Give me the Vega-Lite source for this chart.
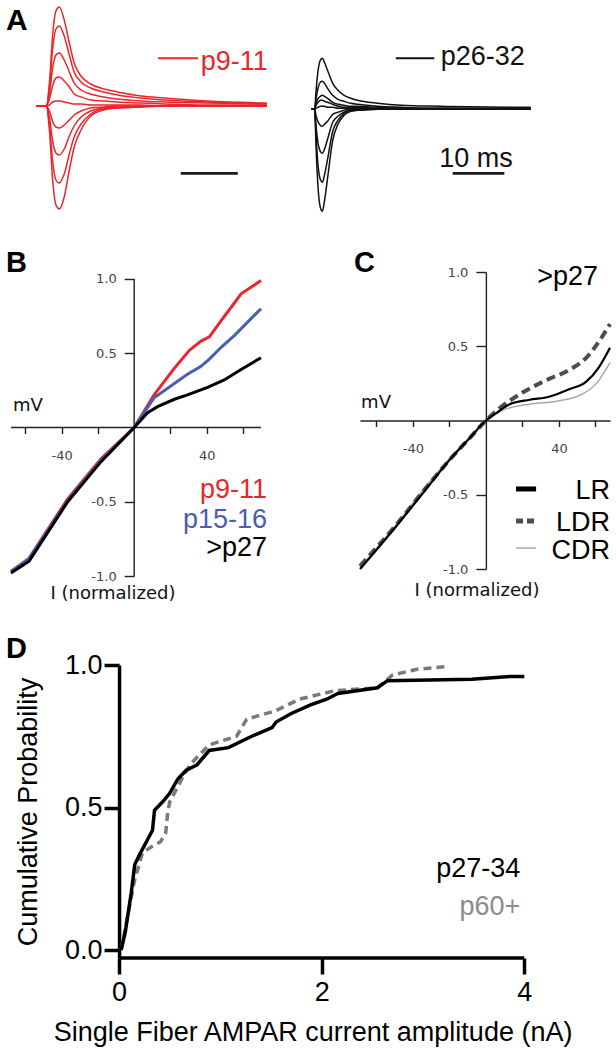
{
"$schema":"https://vega.github.io/schema/vega-lite/v6.json",
"padding":{"left":5,"top":0,"right":0,"bottom":0},
"background":"white",
"config":{"view":{"stroke":null},"font":"Liberation Sans"},
"datasets":{
"red":[
{"k":1,"x":0,"y":0},{"k":1,"x":1.8,"y":0},{"k":1,"x":2.35,"y":0.23},{"k":1,"x":2.95,"y":0.73},{"k":1,"x":3.5,"y":0.95},{"k":1,"x":4.1,"y":0.99},{"k":1,"x":4.95,"y":0.86},{"k":1,"x":5.85,"y":0.63},{"k":1,"x":6.7,"y":0.43},{"k":1,"x":7.9,"y":0.30},{"k":1,"x":9.6,"y":0.22},{"k":1,"x":11.9,"y":0.17},{"k":1,"x":14.3,"y":0.14},{"k":1,"x":18.4,"y":0.10},{"k":1,"x":22.5,"y":0.08},{"k":1,"x":30,"y":0.05},{"k":1,"x":40.5,"y":0.03},
{"k":2,"x":0,"y":0},{"k":2,"x":1.8,"y":0},{"k":2,"x":2.35,"y":0.18},{"k":2,"x":2.95,"y":0.59},{"k":2,"x":3.5,"y":0.77},{"k":2,"x":4.1,"y":0.80},{"k":2,"x":4.95,"y":0.70},{"k":2,"x":5.85,"y":0.51},{"k":2,"x":6.7,"y":0.34},{"k":2,"x":7.9,"y":0.24},{"k":2,"x":9.6,"y":0.18},{"k":2,"x":11.9,"y":0.14},{"k":2,"x":14.3,"y":0.11},{"k":2,"x":18.4,"y":0.08},{"k":2,"x":22.5,"y":0.06},{"k":2,"x":30,"y":0.04},{"k":2,"x":40.5,"y":0.02},
{"k":3,"x":0,"y":0},{"k":3,"x":1.8,"y":0},{"k":3,"x":2.35,"y":0.12},{"k":3,"x":2.95,"y":0.39},{"k":3,"x":3.5,"y":0.51},{"k":3,"x":4.1,"y":0.53},{"k":3,"x":4.95,"y":0.46},{"k":3,"x":5.85,"y":0.34},{"k":3,"x":6.7,"y":0.23},{"k":3,"x":7.9,"y":0.16},{"k":3,"x":9.6,"y":0.12},{"k":3,"x":11.9,"y":0.09},{"k":3,"x":14.3,"y":0.07},{"k":3,"x":18.4,"y":0.05},{"k":3,"x":22.5,"y":0.04},{"k":3,"x":30,"y":0.03},{"k":3,"x":40.5,"y":0.02},
{"k":4,"x":0,"y":0},{"k":4,"x":1.8,"y":0},{"k":4,"x":2.35,"y":0.07},{"k":4,"x":2.95,"y":0.21},{"k":4,"x":3.5,"y":0.28},{"k":4,"x":4.1,"y":0.29},{"k":4,"x":4.95,"y":0.25},{"k":4,"x":5.85,"y":0.19},{"k":4,"x":6.7,"y":0.12},{"k":4,"x":7.9,"y":0.09},{"k":4,"x":9.6,"y":0.06},{"k":4,"x":11.9,"y":0.05},{"k":4,"x":14.3,"y":0.04},{"k":4,"x":18.4,"y":0.03},{"k":4,"x":22.5,"y":0.02},{"k":4,"x":30,"y":0.01},{"k":4,"x":40.5,"y":0.01},
{"k":5,"x":0,"y":0},{"k":5,"x":1.8,"y":0},{"k":5,"x":2.35,"y":0.01},{"k":5,"x":2.95,"y":0.04},{"k":5,"x":3.5,"y":0.05},{"k":5,"x":4.1,"y":0.05},{"k":5,"x":4.95,"y":0.04},{"k":5,"x":5.85,"y":0.03},{"k":5,"x":6.7,"y":0.02},{"k":5,"x":7.9,"y":0.02},{"k":5,"x":9.6,"y":0.01},{"k":5,"x":11.9,"y":0.01},{"k":5,"x":14.3,"y":0.01},{"k":5,"x":18.4,"y":0.01},{"k":5,"x":22.5,"y":0},{"k":5,"x":30,"y":0},{"k":5,"x":40.5,"y":0},
{"k":6,"x":0,"y":0},{"k":6,"x":1.8,"y":0},{"k":6,"x":2.35,"y":-0.05},{"k":6,"x":2.95,"y":-0.16},{"k":6,"x":3.5,"y":-0.21},{"k":6,"x":4.1,"y":-0.22},{"k":6,"x":4.95,"y":-0.19},{"k":6,"x":5.85,"y":-0.14},{"k":6,"x":6.7,"y":-0.09},{"k":6,"x":7.9,"y":-0.05},{"k":6,"x":9.6,"y":-0.02},{"k":6,"x":11.9,"y":-0.01},{"k":6,"x":14.3,"y":0},{"k":6,"x":18.4,"y":0},{"k":6,"x":22.5,"y":0},{"k":6,"x":30,"y":0},{"k":6,"x":40.5,"y":0},
{"k":7,"x":0,"y":0},{"k":7,"x":1.8,"y":0},{"k":7,"x":2.35,"y":-0.11},{"k":7,"x":2.95,"y":-0.36},{"k":7,"x":3.5,"y":-0.47},{"k":7,"x":4.1,"y":-0.49},{"k":7,"x":4.95,"y":-0.43},{"k":7,"x":5.85,"y":-0.30},{"k":7,"x":6.7,"y":-0.20},{"k":7,"x":7.9,"y":-0.11},{"k":7,"x":9.6,"y":-0.05},{"k":7,"x":11.9,"y":-0.02},{"k":7,"x":14.3,"y":-0.01},{"k":7,"x":18.4,"y":0},{"k":7,"x":22.5,"y":0},{"k":7,"x":30,"y":0},{"k":7,"x":40.5,"y":0},
{"k":8,"x":0,"y":0},{"k":8,"x":1.8,"y":0},{"k":8,"x":2.35,"y":-0.18},{"k":8,"x":2.95,"y":-0.57},{"k":8,"x":3.5,"y":-0.74},{"k":8,"x":4.1,"y":-0.77},{"k":8,"x":4.95,"y":-0.68},{"k":8,"x":5.85,"y":-0.48},{"k":8,"x":6.7,"y":-0.31},{"k":8,"x":7.9,"y":-0.18},{"k":8,"x":9.6,"y":-0.08},{"k":8,"x":11.9,"y":-0.03},{"k":8,"x":14.3,"y":-0.02},{"k":8,"x":18.4,"y":-0.01},{"k":8,"x":22.5,"y":0},{"k":8,"x":30,"y":0},{"k":8,"x":40.5,"y":0},
{"k":9,"x":0,"y":0},{"k":9,"x":1.8,"y":0},{"k":9,"x":2.35,"y":-0.24},{"k":9,"x":2.95,"y":-0.76},{"k":9,"x":3.5,"y":-0.99},{"k":9,"x":4.1,"y":-1.03},{"k":9,"x":4.95,"y":-0.91},{"k":9,"x":5.85,"y":-0.64},{"k":9,"x":6.7,"y":-0.41},{"k":9,"x":7.9,"y":-0.24},{"k":9,"x":9.6,"y":-0.10},{"k":9,"x":11.9,"y":-0.04},{"k":9,"x":14.3,"y":-0.02},{"k":9,"x":18.4,"y":-0.01},{"k":9,"x":22.5,"y":0},{"k":9,"x":30,"y":0},{"k":9,"x":40.5,"y":0}
],
"blk":[
{"k":1,"x":0,"y":0},{"k":1,"x":0.7,"y":0},{"k":1,"x":1.0,"y":0.20},{"k":1,"x":1.4,"y":0.40},{"k":1,"x":1.8,"y":0.49},{"k":1,"x":2.2,"y":0.51},{"k":1,"x":2.6,"y":0.47},{"k":1,"x":3.2,"y":0.39},{"k":1,"x":4.2,"y":0.26},{"k":1,"x":5.2,"y":0.19},{"k":1,"x":6.4,"y":0.14},{"k":1,"x":7.7,"y":0.11},{"k":1,"x":9,"y":0.09},{"k":1,"x":12.9,"y":0.06},{"k":1,"x":17.4,"y":0.04},{"k":1,"x":25,"y":0.03},{"k":1,"x":42.5,"y":0.02},
{"k":2,"x":0,"y":0},{"k":2,"x":0.7,"y":0},{"k":2,"x":1.0,"y":0.11},{"k":2,"x":1.4,"y":0.22},{"k":2,"x":1.8,"y":0.27},{"k":2,"x":2.2,"y":0.28},{"k":2,"x":2.6,"y":0.26},{"k":2,"x":3.2,"y":0.21},{"k":2,"x":4.2,"y":0.14},{"k":2,"x":5.2,"y":0.10},{"k":2,"x":6.4,"y":0.08},{"k":2,"x":7.7,"y":0.06},{"k":2,"x":9,"y":0.05},{"k":2,"x":12.9,"y":0.03},{"k":2,"x":17.4,"y":0.02},{"k":2,"x":25,"y":0.01},{"k":2,"x":42.5,"y":0.01},
{"k":3,"x":0,"y":0},{"k":3,"x":0.7,"y":0},{"k":3,"x":1.0,"y":0.06},{"k":3,"x":1.4,"y":0.11},{"k":3,"x":1.8,"y":0.13},{"k":3,"x":2.2,"y":0.14},{"k":3,"x":2.6,"y":0.13},{"k":3,"x":3.2,"y":0.11},{"k":3,"x":4.2,"y":0.07},{"k":3,"x":5.2,"y":0.05},{"k":3,"x":6.4,"y":0.04},{"k":3,"x":7.7,"y":0.03},{"k":3,"x":9,"y":0.03},{"k":3,"x":12.9,"y":0.02},{"k":3,"x":17.4,"y":0.01},{"k":3,"x":25,"y":0.01},{"k":3,"x":42.5,"y":0},
{"k":4,"x":0,"y":0},{"k":4,"x":0.7,"y":0},{"k":4,"x":1.0,"y":0.04},{"k":4,"x":1.4,"y":0.07},{"k":4,"x":1.8,"y":0.09},{"k":4,"x":2.2,"y":0.09},{"k":4,"x":2.6,"y":0.08},{"k":4,"x":3.2,"y":0.07},{"k":4,"x":4.2,"y":0.05},{"k":4,"x":5.2,"y":0.03},{"k":4,"x":6.4,"y":0.02},{"k":4,"x":7.7,"y":0.02},{"k":4,"x":9,"y":0.02},{"k":4,"x":12.9,"y":0.01},{"k":4,"x":17.4,"y":0.01},{"k":4,"x":25,"y":0},{"k":4,"x":42.5,"y":0},
{"k":5,"x":0,"y":0},{"k":5,"x":0.7,"y":0},{"k":5,"x":1.0,"y":0.01},{"k":5,"x":1.4,"y":0.02},{"k":5,"x":1.8,"y":0.03},{"k":5,"x":2.2,"y":0.03},{"k":5,"x":2.6,"y":0.03},{"k":5,"x":3.2,"y":0.02},{"k":5,"x":4.2,"y":0.02},{"k":5,"x":5.2,"y":0.01},{"k":5,"x":6.4,"y":0.01},{"k":5,"x":7.7,"y":0.01},{"k":5,"x":9,"y":0.01},{"k":5,"x":12.9,"y":0},{"k":5,"x":17.4,"y":0},{"k":5,"x":25,"y":0},{"k":5,"x":42.5,"y":0},
{"k":6,"x":0,"y":0},{"k":6,"x":0.7,"y":0},{"k":6,"x":1.0,"y":-0.07},{"k":6,"x":1.4,"y":-0.13},{"k":6,"x":1.8,"y":-0.16},{"k":6,"x":2.2,"y":-0.17},{"k":6,"x":2.6,"y":-0.15},{"k":6,"x":3.2,"y":-0.12},{"k":6,"x":4.2,"y":-0.05},{"k":6,"x":5.2,"y":-0.03},{"k":6,"x":6.4,"y":-0.01},{"k":6,"x":7.7,"y":0},{"k":6,"x":9,"y":0},{"k":6,"x":12.9,"y":0},{"k":6,"x":17.4,"y":0},{"k":6,"x":25,"y":0},{"k":6,"x":42.5,"y":0},
{"k":7,"x":0,"y":0},{"k":7,"x":0.7,"y":0},{"k":7,"x":1.0,"y":-0.18},{"k":7,"x":1.4,"y":-0.35},{"k":7,"x":1.8,"y":-0.42},{"k":7,"x":2.2,"y":-0.44},{"k":7,"x":2.6,"y":-0.40},{"k":7,"x":3.2,"y":-0.30},{"k":7,"x":4.2,"y":-0.13},{"k":7,"x":5.2,"y":-0.07},{"k":7,"x":6.4,"y":-0.03},{"k":7,"x":7.7,"y":-0.01},{"k":7,"x":9,"y":0},{"k":7,"x":12.9,"y":0},{"k":7,"x":17.4,"y":0},{"k":7,"x":25,"y":0},{"k":7,"x":42.5,"y":0},
{"k":8,"x":0,"y":0},{"k":8,"x":0.7,"y":0},{"k":8,"x":1.0,"y":-0.29},{"k":8,"x":1.4,"y":-0.58},{"k":8,"x":1.8,"y":-0.70},{"k":8,"x":2.2,"y":-0.73},{"k":8,"x":2.6,"y":-0.66},{"k":8,"x":3.2,"y":-0.50},{"k":8,"x":4.2,"y":-0.22},{"k":8,"x":5.2,"y":-0.11},{"k":8,"x":6.4,"y":-0.04},{"k":8,"x":7.7,"y":-0.01},{"k":8,"x":9,"y":-0.01},{"k":8,"x":12.9,"y":0},{"k":8,"x":17.4,"y":0},{"k":8,"x":25,"y":0},{"k":8,"x":42.5,"y":0},
{"k":9,"x":0,"y":0},{"k":9,"x":0.7,"y":0},{"k":9,"x":1.0,"y":-0.41},{"k":9,"x":1.4,"y":-0.81},{"k":9,"x":1.8,"y":-0.98},{"k":9,"x":2.2,"y":-1.02},{"k":9,"x":2.6,"y":-0.92},{"k":9,"x":3.2,"y":-0.69},{"k":9,"x":4.2,"y":-0.31},{"k":9,"x":5.2,"y":-0.15},{"k":9,"x":6.4,"y":-0.06},{"k":9,"x":7.7,"y":-0.02},{"k":9,"x":9,"y":-0.01},{"k":9,"x":12.9,"y":0},{"k":9,"x":17.4,"y":0},{"k":9,"x":25,"y":0},{"k":9,"x":42.5,"y":0}
],
"ivb":[
{"g":"r","x":-68,"y":-0.97},{"g":"r","x":-58,"y":-0.88},{"g":"r","x":-36.7,"y":-0.48},{"g":"r","x":-18.3,"y":-0.21},{"g":"r","x":0,"y":0},{"g":"r","x":11,"y":0.22},{"g":"r","x":22.2,"y":0.40},{"g":"r","x":30.5,"y":0.52},{"g":"r","x":36.7,"y":0.58},{"g":"r","x":41.5,"y":0.61},{"g":"r","x":48,"y":0.72},{"g":"r","x":55.4,"y":0.84},{"g":"r","x":59,"y":0.90},{"g":"r","x":66.4,"y":0.96},{"g":"r","x":70,"y":0.99},
{"g":"b","x":-68,"y":-0.97},{"g":"b","x":-58,"y":-0.885},{"g":"b","x":-36.7,"y":-0.49},{"g":"b","x":-18.3,"y":-0.22},{"g":"b","x":0,"y":0},{"g":"b","x":11,"y":0.20},{"g":"b","x":29.4,"y":0.358},{"g":"b","x":36.7,"y":0.41},{"g":"b","x":41.5,"y":0.46},{"g":"b","x":48,"y":0.54},{"g":"b","x":55.4,"y":0.62},{"g":"b","x":70,"y":0.80},
{"g":"k","x":-68,"y":-0.98},{"g":"k","x":-58,"y":-0.90},{"g":"k","x":-36.7,"y":-0.50},{"g":"k","x":-18.3,"y":-0.23},{"g":"k","x":0,"y":0},{"g":"k","x":7.4,"y":0.10},{"g":"k","x":12.9,"y":0.14},{"g":"k","x":22.2,"y":0.19},{"g":"k","x":29.4,"y":0.22},{"g":"k","x":40.5,"y":0.27},{"g":"k","x":49.7,"y":0.32},{"g":"k","x":59,"y":0.39},{"g":"k","x":70,"y":0.47}
],
"ivc":[
{"g":"lr","x":-69,"y":-1.0},{"g":"lr","x":-49,"y":-0.71},{"g":"lr","x":-34.6,"y":-0.49},{"g":"lr","x":-18.1,"y":-0.24},{"g":"lr","x":-9,"y":-0.12},{"g":"lr","x":0,"y":0},{"g":"lr","x":5.7,"y":0.05},{"g":"lr","x":13,"y":0.11},{"g":"lr","x":24,"y":0.14},{"g":"lr","x":34.6,"y":0.16},{"g":"lr","x":45.6,"y":0.21},{"g":"lr","x":54.8,"y":0.26},{"g":"lr","x":62,"y":0.36},{"g":"lr","x":68,"y":0.49},
{"g":"ldr","x":-69,"y":-0.98},{"g":"ldr","x":-49,"y":-0.70},{"g":"ldr","x":-34.6,"y":-0.48},{"g":"ldr","x":-18.1,"y":-0.24},{"g":"ldr","x":-9,"y":-0.12},{"g":"ldr","x":0,"y":0},{"g":"ldr","x":9.3,"y":0.10},{"g":"ldr","x":20.3,"y":0.19},{"g":"ldr","x":34.6,"y":0.28},{"g":"ldr","x":45.6,"y":0.34},{"g":"ldr","x":54.8,"y":0.42},{"g":"ldr","x":64,"y":0.57},{"g":"ldr","x":68,"y":0.65},
{"g":"cdr","x":-69,"y":-0.99},{"g":"cdr","x":-49,"y":-0.70},{"g":"cdr","x":-34.6,"y":-0.47},{"g":"cdr","x":-18.1,"y":-0.23},{"g":"cdr","x":-9,"y":-0.12},{"g":"cdr","x":0,"y":0},{"g":"cdr","x":9.3,"y":0.07},{"g":"cdr","x":24,"y":0.11},{"g":"cdr","x":38.8,"y":0.13},{"g":"cdr","x":51.5,"y":0.17},{"g":"cdr","x":60.6,"y":0.25},{"g":"cdr","x":68,"y":0.39}
],
"cdf":[
{"g":"young","x":0.02,"y":0},{"g":"young","x":0.06,"y":0.06},{"g":"young","x":0.12,"y":0.20},{"g":"young","x":0.155,"y":0.30},{"g":"young","x":0.21,"y":0.34},{"g":"young","x":0.27,"y":0.38},{"g":"young","x":0.33,"y":0.42},{"g":"young","x":0.35,"y":0.49},{"g":"young","x":0.43,"y":0.52},{"g":"young","x":0.50,"y":0.55},{"g":"young","x":0.58,"y":0.60},{"g":"young","x":0.66,"y":0.63},{"g":"young","x":0.77,"y":0.65},{"g":"young","x":0.89,"y":0.70},{"g":"young","x":1.08,"y":0.71},{"g":"young","x":1.31,"y":0.75},{"g":"young","x":1.51,"y":0.78},{"g":"young","x":1.55,"y":0.80},{"g":"young","x":1.70,"y":0.83},{"g":"young","x":1.89,"y":0.86},{"g":"young","x":2.05,"y":0.88},{"g":"young","x":2.16,"y":0.90},{"g":"young","x":2.55,"y":0.92},{"g":"young","x":2.65,"y":0.945},{"g":"young","x":3.48,"y":0.95},{"g":"young","x":3.86,"y":0.96},{"g":"young","x":4.0,"y":0.96},
{"g":"old","x":0.02,"y":0},{"g":"old","x":0.08,"y":0.11},{"g":"old","x":0.15,"y":0.24},{"g":"old","x":0.23,"y":0.34},{"g":"old","x":0.31,"y":0.36},{"g":"old","x":0.41,"y":0.38},{"g":"old","x":0.46,"y":0.41},{"g":"old","x":0.48,"y":0.48},{"g":"old","x":0.50,"y":0.52},{"g":"old","x":0.62,"y":0.60},{"g":"old","x":0.70,"y":0.65},{"g":"old","x":0.89,"y":0.72},{"g":"old","x":1.16,"y":0.75},{"g":"old","x":1.26,"y":0.81},{"g":"old","x":1.55,"y":0.84},{"g":"old","x":1.78,"y":0.88},{"g":"old","x":2.13,"y":0.91},{"g":"old","x":2.55,"y":0.92},{"g":"old","x":2.70,"y":0.965},{"g":"old","x":2.94,"y":0.985},{"g":"old","x":3.25,"y":0.995}
]
},
"spacing":33,
"vconcat":[
{"spacing":10,"hconcat":[
 {"width":280,"height":215,
  "encoding":{
   "x":{"field":"x","type":"quantitative","scale":{"domain":[-5.263,43.86],"nice":false,"zero":false},"axis":null},
   "y":{"field":"y","type":"quantitative","scale":{"domain":[-1.09,1.06],"nice":false,"zero":false},"axis":null}},
  "layer":[
   {"data":{"name":"red"},"mark":{"type":"line","color":"#e8262b","strokeWidth":1.5,"interpolate":"monotone"},"encoding":{"detail":{"field":"k","type":"nominal"}}},
   {"data":{"values":[{"x":21.4,"x2":28.4,"y":0.477}]},"mark":{"type":"rule","color":"#e8262b","strokeWidth":2},"encoding":{"x2":{"field":"x2"}}},
   {"data":{"values":[{"x":25.4,"x2":35.4,"y":-0.673}]},"mark":{"type":"rule","color":"#1a1a1a","strokeWidth":2.7},"encoding":{"x2":{"field":"x2"}}},
   {"data":{"values":[{"x":28.9,"y":0.36,"t":"p9-11"}]},"mark":{"type":"text","align":"left","baseline":"alphabetic","fontSize":27,"color":"#e8262b"},"encoding":{"text":{"field":"t"}}},
   {"data":{"values":[{"x":-5.263,"y":1.0,"t":"A"}]},"mark":{"type":"text","align":"left","baseline":"top","fontSize":30,"fontWeight":"bold","color":"#000"},"encoding":{"text":{"field":"t"}}}
  ]},
 {"width":265,"height":215,
  "encoding":{
   "x":{"field":"x","type":"quantitative","scale":{"domain":[-2.901,48.36],"nice":false,"zero":false},"axis":null},
   "y":{"field":"y","type":"quantitative","scale":{"domain":[-1.057,1.093],"nice":false,"zero":false},"axis":null}},
  "layer":[
   {"data":{"name":"blk"},"mark":{"type":"line","color":"#111111","strokeWidth":1.5,"interpolate":"monotone"},"encoding":{"detail":{"field":"k","type":"nominal"}}},
   {"data":{"values":[{"x":16.4,"x2":23.85,"y":0.51}]},"mark":{"type":"rule","color":"#111111","strokeWidth":2},"encoding":{"x2":{"field":"x2"}}},
   {"data":{"values":[{"x":27.4,"x2":37.4,"y":-0.64}]},"mark":{"type":"rule","color":"#1a1a1a","strokeWidth":2.7},"encoding":{"x2":{"field":"x2"}}},
   {"data":{"values":[{"x":25.1,"y":0.443,"t":"p26-32"}]},"mark":{"type":"text","align":"left","baseline":"alphabetic","fontSize":27,"color":"#111111"},"encoding":{"text":{"field":"t"}}},
   {"data":{"values":[{"x":31.9,"y":-0.574,"t":"10 ms"}]},"mark":{"type":"text","align":"center","baseline":"alphabetic","fontSize":27,"color":"#111111"},"encoding":{"text":{"field":"t"}}}
  ]}
]},
{"spacing":31,"vconcat":[
 {"spacing":85,"hconcat":[
  {"width":255,"height":304,
   "encoding":{
    "x":{"field":"x","type":"quantitative","scale":{"domain":[-70.76,70],"nice":false,"zero":false},
     "axis":{"orient":"bottom","offset":-148.5,"domain":false,"values":[-60,-40,-20,20,40,60],"labelExpr":"datum.value == 40 ? '40' : (datum.value == -40 ? '-40' : '')","tickSize":6,"labelPadding":16,"labelFont":"DejaVu Sans","labelFontSize":13,"labelColor":"#444","tickColor":"#222","tickWidth":1.4,"grid":false,"title":null,"labelFlush":false,"labelOverlap":false}},
    "y":{"field":"y","type":"quantitative","scale":{"domain":[-1,1.047],"nice":false,"zero":false},
     "axis":{"orient":"left","offset":-128.2,"domain":false,"values":[-1,-0.5,0.5,1],"labelExpr":"datum.value == 1 ? '1.0' : (datum.value == 0.5 ? '0.5' : (datum.value == -0.5 ? '-0.5' : '-1.0'))","tickSize":10,"labelPadding":8,"labelFont":"DejaVu Sans","labelFontSize":13,"labelColor":"#444","tickColor":"#222","tickWidth":1.4,"grid":false,"title":null,"labelOverlap":false}}},
   "layer":[
    {"data":{"values":[{"x":-68,"x2":70,"y":0}]},"mark":{"type":"rule","color":"#222","strokeWidth":1.4},"encoding":{"x2":{"field":"x2"}}},
    {"data":{"values":[{"x":0,"y":-1,"y2":1}]},"mark":{"type":"rule","color":"#222","strokeWidth":1.4},"encoding":{"y2":{"field":"y2"}}},
    {"data":{"name":"ivb"},"transform":[{"filter":"datum.g == 'r'"}],"mark":{"type":"line","color":"#e8262b","strokeWidth":3},"encoding":{}},
    {"data":{"name":"ivb"},"transform":[{"filter":"datum.g == 'b'"}],"mark":{"type":"line","color":"#4a5db0","strokeWidth":3},"encoding":{}},
    {"data":{"name":"ivb"},"transform":[{"filter":"datum.g == 'k'"}],"mark":{"type":"line","color":"#000000","strokeWidth":3},"encoding":{}},
    {"data":{"values":[{"x":-70.76,"y":1.202,"t":"B"}]},"mark":{"type":"text","align":"left","baseline":"top","fontSize":29,"fontWeight":"bold","color":"#000"},"encoding":{"text":{"field":"t"}}},
    {"data":{"values":[{"x":-66.9,"y":0.111,"t":"mV"}]},"mark":{"type":"text","align":"left","baseline":"alphabetic","fontSize":18,"font":"DejaVu Sans","color":"#111"},"encoding":{"text":{"field":"t"}}},
    {"data":{"values":[{"x":-11.7,"y":-1.155,"t":"I (normalized)"}]},"mark":{"type":"text","align":"center","baseline":"alphabetic","fontSize":18,"font":"DejaVu Sans","color":"#111"},"encoding":{"text":{"field":"t"}}},
    {"data":{"values":[{"x":73.3,"y":-0.475,"t":"p9-11"}]},"mark":{"type":"text","align":"right","baseline":"alphabetic","fontSize":27,"color":"#e8262b"},"encoding":{"text":{"field":"t"}}},
    {"data":{"values":[{"x":73.3,"y":-0.677,"t":"p15-16"}]},"mark":{"type":"text","align":"right","baseline":"alphabetic","fontSize":27,"color":"#4a5db0"},"encoding":{"text":{"field":"t"}}},
    {"data":{"values":[{"x":73.3,"y":-0.865,"t":">p27"}]},"mark":{"type":"text","align":"right","baseline":"alphabetic","fontSize":27,"color":"#000000"},"encoding":{"text":{"field":"t"}}}
   ]},
  {"width":250,"height":297,
   "encoding":{
    "x":{"field":"x","type":"quantitative","scale":{"domain":[-69,68],"nice":false,"zero":false},
     "axis":{"orient":"bottom","offset":-148.5,"values":[-60,-40,-20,20,40,60],"labelExpr":"datum.value == 40 ? '40' : (datum.value == -40 ? '-40' : '')","tickSize":6,"labelPadding":16,"labelFont":"DejaVu Sans","labelFontSize":13,"labelColor":"#444","domainColor":"#222","tickColor":"#222","domainWidth":1.4,"tickWidth":1.4,"grid":false,"title":null,"labelFlush":false,"labelOverlap":false}},
    "y":{"field":"y","type":"quantitative","scale":{"domain":[-1,1],"nice":false,"zero":false},
     "axis":{"orient":"left","offset":-125.9,"values":[-1,-0.5,0.5,1],"labelExpr":"datum.value == 1 ? '1.0' : (datum.value == 0.5 ? '0.5' : (datum.value == -0.5 ? '-0.5' : '-1.0'))","tickSize":10,"labelPadding":8,"labelFont":"DejaVu Sans","labelFontSize":13,"labelColor":"#444","domainColor":"#222","tickColor":"#222","domainWidth":1.4,"tickWidth":1.4,"grid":false,"title":null,"labelOverlap":false}}},
   "layer":[
    {"data":{"name":"ivc"},"transform":[{"filter":"datum.g == 'cdr'"}],"mark":{"type":"line","color":"#a8a8a8","strokeWidth":1.5,"interpolate":"monotone"},"encoding":{}},
    {"data":{"name":"ivc"},"transform":[{"filter":"datum.g == 'ldr'"}],"mark":{"type":"line","color":"#4d4d4d","strokeWidth":4,"strokeDash":[9,5],"interpolate":"monotone"},"encoding":{}},
    {"data":{"name":"ivc"},"transform":[{"filter":"datum.g == 'lr'"}],"mark":{"type":"line","color":"#000000","strokeWidth":2.2,"interpolate":"monotone"},"encoding":{}},
    {"data":{"values":[{"x":16.5,"x2":27.5,"y":-0.461}]},"mark":{"type":"rule","color":"#000000","strokeWidth":5},"encoding":{"x2":{"field":"x2"}}},
    {"data":{"values":[{"x":16.5,"x2":27.5,"y":-0.677}]},"mark":{"type":"rule","color":"#4d4d4d","strokeWidth":5,"strokeDash":[7,4]},"encoding":{"x2":{"field":"x2"}}},
    {"data":{"values":[{"x":16.5,"x2":27.5,"y":-0.859}]},"mark":{"type":"rule","color":"#a8a8a8","strokeWidth":1.5},"encoding":{"x2":{"field":"x2"}}},
    {"data":{"values":[{"x":68,"y":-0.529,"t":"LR"},{"x":68,"y":-0.744,"t":"LDR"},{"x":68,"y":-0.933,"t":"CDR"},{"x":61.4,"y":0.912,"t":">p27"}]},"mark":{"type":"text","align":"right","baseline":"alphabetic","fontSize":27,"color":"#000"},"encoding":{"text":{"field":"t"}}},
    {"data":{"values":[{"x":-72.3,"y":1.155,"t":"C"}]},"mark":{"type":"text","align":"left","baseline":"top","fontSize":29,"fontWeight":"bold","color":"#000"},"encoding":{"text":{"field":"t"}}},
    {"data":{"values":[{"x":-68.4,"y":0.084,"t":"mV"}]},"mark":{"type":"text","align":"left","baseline":"alphabetic","fontSize":18,"font":"DejaVu Sans","color":"#111"},"encoding":{"text":{"field":"t"}}},
    {"data":{"values":[{"x":-4.9,"y":-1.182,"t":"I (normalized)"}]},"mark":{"type":"text","align":"center","baseline":"alphabetic","fontSize":18,"font":"DejaVu Sans","color":"#111"},"encoding":{"text":{"field":"t"}}}
   ]}
 ]},
 {"width":518.3,"height":293,
  "encoding":{
   "x":{"field":"x","type":"quantitative","scale":{"domain":[-1.116,4],"nice":false,"zero":false},
    "axis":{"values":[0,2,4],"format":"d","domain":false,"tickSize":16,"tickWidth":3.5,"tickColor":"#000","labelFontSize":27,"labelColor":"#000","labelPadding":5,"labelFlush":false,"grid":false,"title":null}},
   "y":{"field":"y","type":"quantitative","scale":{"domain":[-0.028,1],"nice":false,"zero":false},
    "axis":{"offset":-113.05,"values":[0,0.5,1],"format":".1f","tickSize":15,"tickWidth":3.5,"domainWidth":3.5,"domainColor":"#000","tickColor":"#000","labelFontSize":27,"labelColor":"#000","labelPadding":2,"grid":false,"title":"Cumulative Probability","titleFontSize":27,"titleFontWeight":"normal","titleColor":"#000","titlePadding":22}}},
  "layer":[
   {"data":{"values":[{"x":0,"x2":4,"y":-0.028}]},"mark":{"type":"rule","color":"#000","strokeWidth":3.5},"encoding":{"x2":{"field":"x2"}}},
   {"data":{"name":"cdf"},"transform":[{"filter":"datum.g == 'old'"}],"mark":{"type":"line","color":"#7a7a7a","strokeWidth":3.5,"strokeDash":[8,5]},"encoding":{}},
   {"data":{"name":"cdf"},"transform":[{"filter":"datum.g == 'young'"}],"mark":{"type":"line","color":"#000000","strokeWidth":3.5},"encoding":{}},
   {"data":{"values":[{"x":-1.116,"y":1.105,"t":"D"}]},"mark":{"type":"text","align":"left","baseline":"top","fontSize":29,"fontWeight":"bold","color":"#000"},"encoding":{"text":{"field":"t"}}},
   {"data":{"values":[{"x":3.96,"y":0.256,"t":"p27-34"}]},"mark":{"type":"text","align":"right","baseline":"alphabetic","fontSize":27,"color":"#000000"},"encoding":{"text":{"field":"t"}}},
   {"data":{"values":[{"x":3.96,"y":0.124,"t":"p60+"}]},"mark":{"type":"text","align":"right","baseline":"alphabetic","fontSize":27,"color":"#8c8c8c"},"encoding":{"text":{"field":"t"}}},
   {"data":{"values":[{"x":1.915,"y":-0.2456,"t":"Single Fiber AMPAR current amplitude (nA)"}]},"mark":{"type":"text","align":"center","baseline":"top","fontSize":27,"color":"#000"},"encoding":{"text":{"field":"t"}}}
  ]}
]}
]
}
